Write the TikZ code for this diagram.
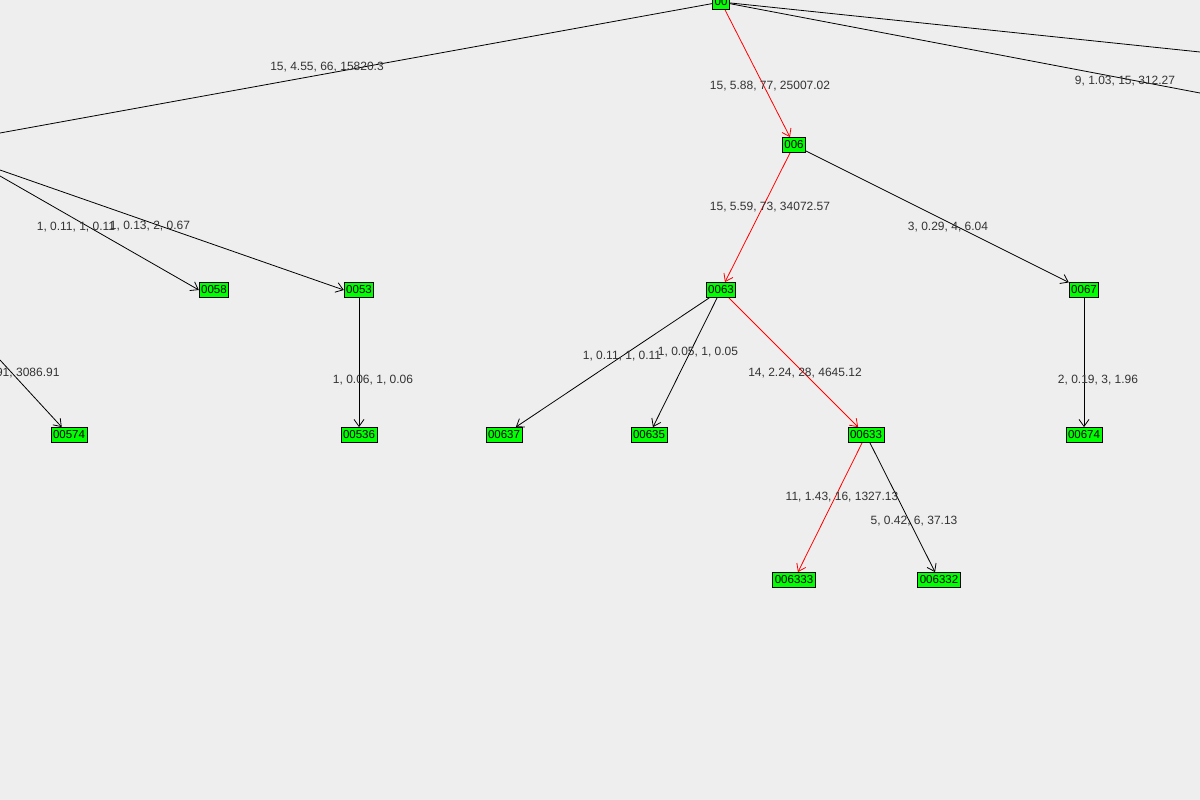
\documentclass[tikz,border=0pt]{standalone}
\usepackage{fontspec}
\setmainfont{Liberation Sans}
\usetikzlibrary{arrows.meta}
\definecolor{bgray}{HTML}{EEEEEE}
\definecolor{vgreen}{HTML}{00FF00}
\definecolor{tgray}{HTML}{333333}
\tikzset{
  vertex/.style={rectangle, draw=black, fill=vgreen, inner xsep=2pt, inner ysep=1pt, font=\fontsize{11.5}{12}\selectfont, minimum height=15pt, line width=0.8pt},
  elabel/.style={font=\fontsize{12}{13}\selectfont, text=tgray},
  edge/.style={draw=black, line width=0.8pt, -{Straight Barb[length=7pt,width=10pt]}},
  hot/.style={draw=red, line width=0.8pt, -{Straight Barb[length=7pt,width=10pt]}}
}
\begin{document}
\begin{tikzpicture}[x=1pt,y=-1pt]
          % Frame
          \fill[bgray] (0,0) rectangle (1200,800);
          \useasboundingbox (0,0) rectangle (1200,800);
          \clip (0,0) rectangle (1200,800);

          % Vertices
          \node[vertex] (v00) at (721,2) {00};
          \node[vertex] (v006) at (794,145) {006};
          \node[vertex] (v0063) at (721,290) {0063};
          \node[vertex] (v0067) at (1084,290) {0067};
          \node[vertex] (v0058) at (214,290) {0058};
          \node[vertex] (v0053) at (359,290) {0053};
          \node[vertex] (v00574) at (69,435) {00574};
          \node[vertex] (v00536) at (359,435) {00536};
          \node[vertex] (v00637) at (504,435) {00637};
          \node[vertex] (v00635) at (649,435) {00635};
          \node[vertex] (v00633) at (866,435) {00633};
          \node[vertex] (v00674) at (1084,435) {00674};
          \node[vertex] (v006333) at (794,580) {006333};
          \node[vertex] (v006332) at (939,580) {006332};

          % Free ends
          \coordinate (outL) at (0,133);
          \coordinate (inL1) at (0,170);
          \coordinate (inL2) at (0,176);
          \coordinate (inL3) at (0,360);
          \coordinate (outR1) at (1200,52);
          \coordinate (outR2) at (1200,93);

          % Edges
          \draw[line width=0.8pt] (v00) -- (outL);
          \draw[line width=0.8pt] (v00) -- (outR1);
          \draw[line width=0.8pt] (v00) -- (outR2);
          \draw[hot] (v00) -- (v006);
          \draw[hot] (v006) -- (v0063);
          \draw[edge] (v006) -- (v0067);
          \draw[edge] (inL1) -- (v0053.west);
          \draw[edge] (inL2) -- (v0058.west);
          \draw[edge] (inL3) -- (v00574);
          \draw[edge] (v0053) -- (v00536);
          \draw[edge] (v0063) -- (v00637);
          \draw[edge] (v0063) -- (v00635);
          \draw[hot] (v0063) -- (v00633);
          \draw[edge] (v0067) -- (v00674);
          \draw[hot] (v00633) -- (v006333);
          \draw[edge] (v00633) -- (v006332);

          % Edge labels
          \node[elabel] (l1) at (327,67) {15, 4.55, 66, 15820.3};
          \node[elabel] (l2) at (770,86) {15, 5.88, 77, 25007.02};
          \node[elabel] (l3) at (1125,81) {9, 1.03, 15, 312.27};
          \node[elabel] (l4) at (770,207) {15, 5.59, 73, 34072.57};
          \node[elabel] (l5) at (948,227) {3, 0.29, 4, 6.04};
          \node[elabel] (l6) at (76,227) {1, 0.11, 1, 0.11};
          \node[elabel] (l7) at (150,226) {1, 0.13, 2, 0.67};
          \node[elabel, anchor=east] (l8) at (63,373) {91, 3086.91};
          \node[elabel] (l9) at (373,380) {1, 0.06, 1, 0.06};
          \node[elabel] (l10) at (622,356) {1, 0.11, 1, 0.11};
          \node[elabel] (l11) at (698,352) {1, 0.05, 1, 0.05};
          \node[elabel] (l12) at (805,373) {14, 2.24, 28, 4645.12};
          \node[elabel] (l13) at (1098,380) {2, 0.19, 3, 1.96};
          \node[elabel] (l14) at (842,497) {11, 1.43, 16, 1327.13};
          \node[elabel] (l15) at (914,521) {5, 0.42, 6, 37.13};

        \end{tikzpicture}
\end{document}
